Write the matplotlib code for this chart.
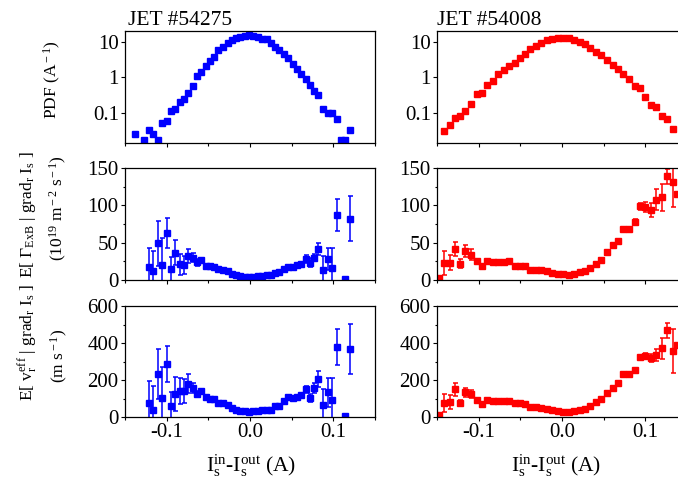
import matplotlib
matplotlib.use("Agg")
import matplotlib.pyplot as plt
from matplotlib.ticker import FixedLocator, FixedFormatter, MultipleLocator
import numpy as np

plt.rcParams['font.family'] = ['Liberation Serif', 'DejaVu Serif']
plt.rcParams['mathtext.fontset'] = 'custom'
plt.rcParams['mathtext.rm'] = 'Liberation Serif'
plt.rcParams['mathtext.it'] = 'Liberation Serif:italic'
plt.rcParams['axes.unicode_minus'] = False

# ---- JET #54275 (blue, left column) ----
x_left = [-0.138, -0.132, -0.127, -0.121, -0.116, -0.111, -0.106, -0.100, -0.095, -0.090,
          -0.084, -0.079, -0.074, -0.069, -0.064, -0.059, -0.053, -0.048, -0.043, -0.038,
          -0.032, -0.027, -0.022, -0.017, -0.012, -0.006, -0.001, 0.004, 0.009, 0.014,
          0.020, 0.025, 0.030, 0.035, 0.041, 0.046, 0.051, 0.056, 0.061, 0.067,
          0.072, 0.077, 0.082, 0.088, 0.093, 0.098, 0.104, 0.109, 0.114, 0.120]

pdf_left = [0.026, np.nan, 0.0177, 0.034, 0.026, 0.0177, 0.0515, 0.06, 0.114, 0.132,
            0.203, 0.256, 0.361, 0.58, 1.08, 1.42, 2.05, 2.95, 3.81, 5.85,
            7.24, 9.4, 11.1, 12.7, 13.8, 14.7, 15.0, 14.4, 13.2, 11.9,
            11.6, 9.0, 7.2, 5.8, 4.5, 3.43, 2.38, 1.73, 1.25, 0.91,
            0.63, 0.43, 0.318, 0.132, 0.104, 0.104, 0.0695, 0.0177, 0.0177, 0.034]

gam_left = [np.nan, np.nan, np.nan, 17.9, 12, 49, 20, 62.5, 14.3, 36.6,
            21, 20, 32.6, 30, 23.7, 26.3, 19.2, 18.7, 17, 14.3,
            13.4, 12, 8.5, 7.1, 5.4, 4.5, 4, 4.5, 4.9, 5.4,
            6.2, 7, 10, 10.5, 15, 18, 17, 20, 21, 28,
            23, 30, 41.5, 13.4, 27.7, 16.5, 86.6, np.nan, 1, 82]
gam_left_err = [0, 0, 0, 25, 27, 30, 36, 20, 16, 16.5,
                14, 12, 9.5, 6, 5, 3, 2, 0, 0, 0,
                0, 0, 0, 0, 0, 0, 0, 0, 0, 0,
                0, 0, 0, 0, 0, 0, 0, 0, 0, 5,
                6, 5, 8, 19, 14.7, 26, 21.5, 0, 0, 30]

v_left = [np.nan, np.nan, np.nan, 75, 39, 231, 102, 287, 57, 125,
          141, 138, 181, 156, 124, 138, 107, 98, 97, 75,
          75, 63, 48, 39, 34, 30, 29, 30, 30, 36,
          39, 39, 57, 57, 84, 106, 102, 110, 118, 150,
          102, 156, 206, 66, 134, 93, 380, np.nan, 7, 369]
v_left_err = [0, 0, 0, 117, 126, 134, 167, 97, 77, 90,
              70, 65, 49, 27, 18, 10, 0, 0, 0, 0,
              0, 0, 0, 0, 0, 0, 0, 0, 0, 0,
              0, 0, 0, 0, 0, 0, 0, 0, 0, 18,
              22, 27, 45, 87, 78, 120, 98, 0, 0, 136]

# ---- JET #54008 (red, right column) ----
x_right = [-0.148, -0.142, -0.135, -0.129, -0.122, -0.116, -0.109, -0.102, -0.096, -0.090,
           -0.083, -0.077, -0.070, -0.064, -0.057, -0.051, -0.044, -0.038, -0.031, -0.025,
           -0.018, -0.012, -0.005, 0.001, 0.008, 0.014, 0.021, 0.027, 0.034, 0.041,
           0.047, 0.054, 0.061, 0.067, 0.073, 0.080, 0.087, 0.093, 0.100, 0.107,
           0.113, 0.120, 0.126, 0.133, 0.138]

pdf_right = [np.nan, 0.0321, 0.046, 0.072, 0.082, 0.116, 0.186, 0.347, 0.377, 0.62,
             0.80, 1.25, 1.62, 2.05, 2.54, 3.57, 4.53, 6.1, 7.57, 8.98,
             10.9, 12.1, 12.9, 12.9, 12.4, 11.1, 10, 8.8, 6.5, 5.04,
             4.16, 3.01, 2.19, 1.69, 1.25, 0.89, 0.58, 0.5, 0.29, 0.171,
             0.147, 0.081, 0.068, 0.0357, np.nan]

gam_right = [2.7, 22.4, 23, 41.6, 21.5, 39.4, 34, 26, 19.3, 26,
             23.7, 23.7, 24.6, 26, 19.3, 19.3, 18.8, 13.4, 13.9, 13.4,
             11.6, 9, 8, 7.6, 6.7, 8, 10.3, 12.5, 16, 21.5,
             27, 37, 47, 52.8, 68.5, 68.5, 77.5, 98.5, 97.6, 94,
             107.5, 111, 139, 131, 115.5]
gam_right_err = [0, 16, 10, 9.5, 6, 8, 7, 0, 0, 0,
                 0, 0, 0, 0, 0, 0, 0, 0, 0, 0,
                 0, 0, 0, 0, 0, 0, 0, 0, 0, 0,
                 0, 0, 0, 0, 0, 0, 4, 5, 7, 9,
                 14, 18, 10, 33, 0]

v_right = [12.5, 75, 80, 150, 75, 134, 124, 90, 70, 90,
           84, 84, 86, 88, 75, 75, 70, 52, 52, 48,
           45, 38, 30, 27, 29, 34, 39, 45, 57, 81,
           98, 129, 159, 186, 231, 231, 256, 324, 331, 317,
           335, 371, 469, 358, 389]
v_right_err = [0, 49, 38, 35, 15, 25, 20, 0, 0, 0,
               0, 0, 0, 0, 0, 0, 0, 0, 0, 0,
               0, 0, 0, 0, 0, 0, 0, 0, 0, 0,
               0, 0, 0, 0, 0, 0, 10, 12, 15, 22,
               30, 55, 40, 120, 0]

titles = ['JET #54275', 'JET #54008']
colors = ['#0000ff', '#ff0000']

fig = plt.figure(figsize=(6.78, 4.84), dpi=100)

W, H = 678.0, 484.0
col_left = [125, 437]
ax_w = 250
rows = [(31, 143), (168, 280), (306, 417)]

axes = []
for c in range(2):
    col = []
    for (top, bot) in rows:
        ax = fig.add_axes([col_left[c] / W, 1 - bot / H, ax_w / W, (bot - top) / H])
        col.append(ax)
    axes.append(col)

fs = 15      # tick labels
fs_lab = 12.5  # y labels
for c in range(2):
    x = x_left if c == 0 else x_right
    pdf = pdf_left if c == 0 else pdf_right
    gam, gerr = (gam_left, gam_left_err) if c == 0 else (gam_right, gam_right_err)
    v, verr = (v_left, v_left_err) if c == 0 else (v_right, v_right_err)
    col = colors[c]
    a0, a1, a2 = axes[c]

    a0.plot(x, pdf, 's', color=col, ms=4.3, mec=col)
    a0.set_yscale('log')
    a0.set_ylim(0.0146, 20)
    a0.yaxis.set_major_locator(FixedLocator([0.1, 1, 10]))
    a0.yaxis.set_major_formatter(FixedFormatter(['0.1', '1', '10']))
    a0.yaxis.set_minor_locator(FixedLocator([]))

    a1.errorbar(x, gam, yerr=gerr, fmt='s', color=col, ms=4.3, mec=col,
                elinewidth=1.1, capsize=1.8, capthick=1.1)
    a1.set_ylim(0, 150)
    a1.yaxis.set_major_locator(MultipleLocator(50))
    a1.yaxis.set_minor_locator(MultipleLocator(25))

    a2.errorbar(x, v, yerr=verr, fmt='s', color=col, ms=4.3, mec=col,
                elinewidth=1.1, capsize=1.8, capthick=1.1)
    a2.set_ylim(0, 600)
    a2.yaxis.set_major_locator(MultipleLocator(200))
    a2.yaxis.set_minor_locator(MultipleLocator(100))

    for ax in (a0, a1, a2):
        ax.set_xlim(-0.15, 0.15)
        ax.xaxis.set_major_locator(FixedLocator([-0.1, 0.0, 0.1]))
        ax.xaxis.set_minor_locator(FixedLocator([-0.15, -0.05, 0.05, 0.15]))
        ax.tick_params(which='major', direction='out', length=3, width=0.8,
                       labelsize=fs, pad=1.5, top=False, right=False)
        ax.tick_params(which='minor', direction='out', length=1.8, width=0.8,
                       top=False, right=False)
        for s in ax.spines.values():
            s.set_linewidth(0.9)
    for ax in (a0, a1):
        ax.tick_params(labelbottom=False)
    a2.xaxis.set_major_formatter(FixedFormatter(['-0.1', '0.0', '0.1']))

    a0.text(0.012 if c == 0 else 0.0, 1.054, titles[c], transform=a0.transAxes,
            fontsize=15.5, va='baseline', ha='left')
    a2.text(0.504 if c == 0 else 0.478, -0.495,
            r'I$_{\rm s}^{\rm in}$-I$_{\rm s}^{\rm out}$ (A)',
            transform=a2.transAxes, fontsize=15.5, va='baseline', ha='center')

# y labels (left column only)
a0, a1, a2 = axes[0]
a0.text(-0.292, 0.5625, r'PDF (A$^{\rm -1}$)', transform=a0.transAxes,
        rotation=90, fontsize=fs_lab, ha='center', va='center')
a1.text(-0.388, 0.58, r'E[ $\Gamma_{\rm ExB}$ | grad$_{\rm r}$ I$_{\rm s}$ ]',
        transform=a1.transAxes, rotation=90, fontsize=fs_lab, ha='center', va='center')
a1.text(-0.268, 0.643, r'(10$^{\rm 19}$ m$^{\rm -2}$ s$^{\rm -1}$)',
        transform=a1.transAxes, rotation=90, fontsize=fs_lab, ha='center', va='center')
a2.text(-0.39, 0.676, r'E[ v$_{\rm r}^{\rm eff}$ | grad$_{\rm r}$ I$_{\rm s}$ ]',
        transform=a2.transAxes, rotation=90, fontsize=fs_lab, ha='center', va='center')
a2.text(-0.264, 0.55, r'(m s$^{\rm -1}$)',
        transform=a2.transAxes, rotation=90, fontsize=fs_lab, ha='center', va='center')

fig.savefig('out.png', dpi=100)
